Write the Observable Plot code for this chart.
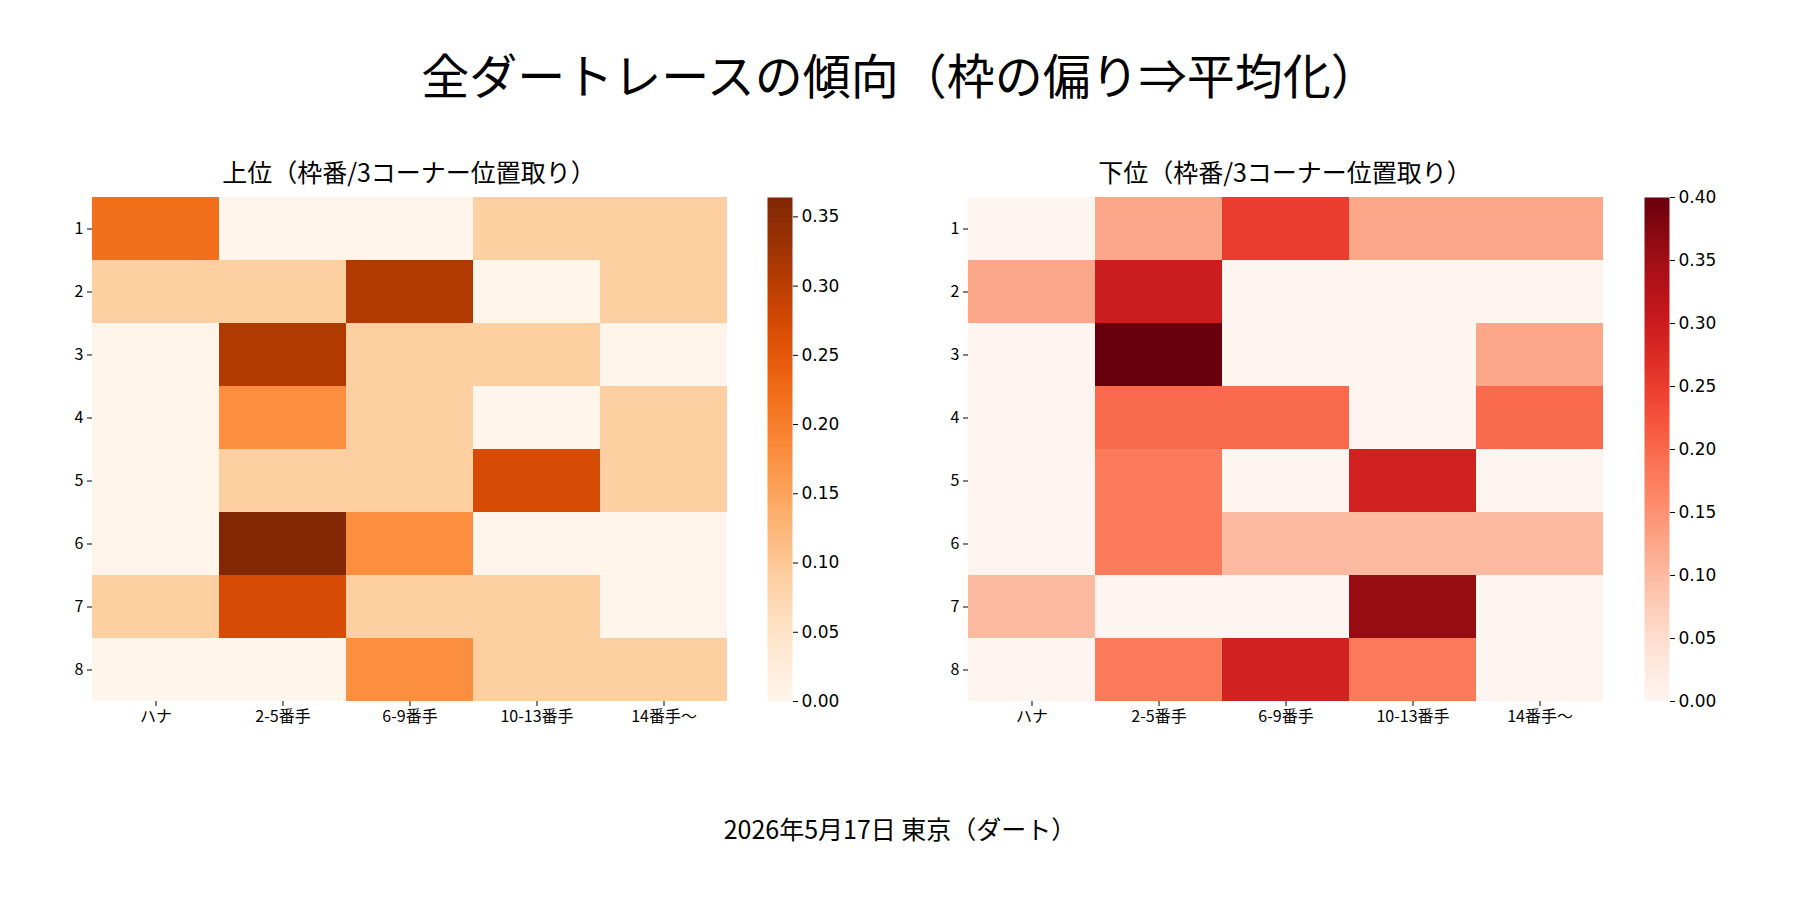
<!DOCTYPE html>
<html><head><meta charset="utf-8">
<script src="https://cdn.jsdelivr.net/npm/d3@7"></script>
<script src="https://cdn.jsdelivr.net/npm/@observablehq/plot@0.6"></script>
<style>
body{margin:0;width:1800px;height:900px;background:#fff;position:relative;font-family:"Noto Sans CJK JP",sans-serif;overflow:hidden}
.t{position:absolute;left:0;width:1800px;text-align:center;color:#000}
.p{position:absolute}
</style></head><body>
<div class="t" style="top:38px;font-size:48px">全ダートレースの傾向（枠の偏り⇒平均化）</div>
<div class="t" style="top:153px;font-size:25px;left:-491px">上位（枠番/3コーナー位置取り）</div>
<div class="t" style="top:153px;font-size:25px;left:385px">下位（枠番/3コーナー位置取り）</div>
<div class="t" style="top:810px;font-size:25px">2026年5月17日 東京（ダート）</div>
<div id="a" class="p" style="left:52px;top:192px"></div>
<div id="ac" class="p" style="left:767px;top:182px"></div>
<div id="b" class="p" style="left:928px;top:192px"></div>
<div id="bc" class="p" style="left:1644px;top:182px"></div>
<script>
const positions = ["ハナ","2-5番手","6-9番手","10-13番手","14番手〜"];
const gates = [1,2,3,4,5,6,7,8];
const upper = [
 [0.22,0,0,0.09,0.09],
 [0.09,0.09,0.31,0,0.09],
 [0,0.31,0.09,0.09,0],
 [0,0.18,0.09,0,0.09],
 [0,0.09,0.09,0.27,0.09],
 [0,0.36,0.18,0,0],
 [0.09,0.27,0.09,0.09,0],
 [0,0,0.18,0.09,0.09]
];
const lower = [
 [0,0.125,0.25,0.125,0.125],
 [0.125,0.3,0,0,0],
 [0,0.4,0,0,0.125],
 [0,0.2,0.2,0,0.2],
 [0,0.18,0,0.29,0],
 [0,0.18,0.1,0.1,0.1],
 [0.1,0,0,0.36,0],
 [0,0.18,0.29,0.18,0]
];
const upperMax = 0.364, lowerMax = 0.4;
const colorTicks = [0,0.05,0.1,0.15,0.2,0.25,0.3,0.35,0.4];

function heat(el, m, scheme, max){
  const data = [];
  gates.forEach((g,i)=>positions.forEach((p,j)=>data.push({g,p,v:m[i][j]})));
  document.getElementById(el).append(Plot.plot({
    width:680, height:549, marginLeft:40, marginRight:5, marginTop:5, marginBottom:40,
    style:{fontSize:"16px",fontFamily:"Noto Sans CJK JP, sans-serif",color:"#000"},
    x:{domain:positions, label:null, padding:0, tickSize:5},
    y:{domain:gates, label:null, padding:0, tickSize:5},
    color:{scheme, domain:[0,max]},
    marks:[Plot.cell(data,{x:"p",y:"g",fill:"v",inset:0})]
  }));
}
function bar(el, scheme, max){
  document.getElementById(el).append(Plot.plot({
    width:95, height:534, marginLeft:0, marginRight:70, marginTop:15, marginBottom:15,
    style:{fontSize:"17px",fontFamily:"DejaVu Sans, sans-serif",color:"#000",overflow:"visible"},
    x:{domain:[0,1], axis:null},
    y:{domain:[0,max], axis:"right", ticks:colorTicks.filter(t=>t<=max+1e-9), tickFormat:".2f", label:null, tickSize:5},
    color:{scheme, domain:[0,max]},
    marks:[Plot.raster({fill:(x,y)=>y, x1:0,x2:1,y1:0,y2:max, width:2, height:256, imageRendering:"auto"})]
  }));
}
heat("a", upper, "oranges", upperMax);
bar("ac", "oranges", upperMax);
heat("b", lower, "reds", lowerMax);
bar("bc", "reds", lowerMax);
</script></body></html>
